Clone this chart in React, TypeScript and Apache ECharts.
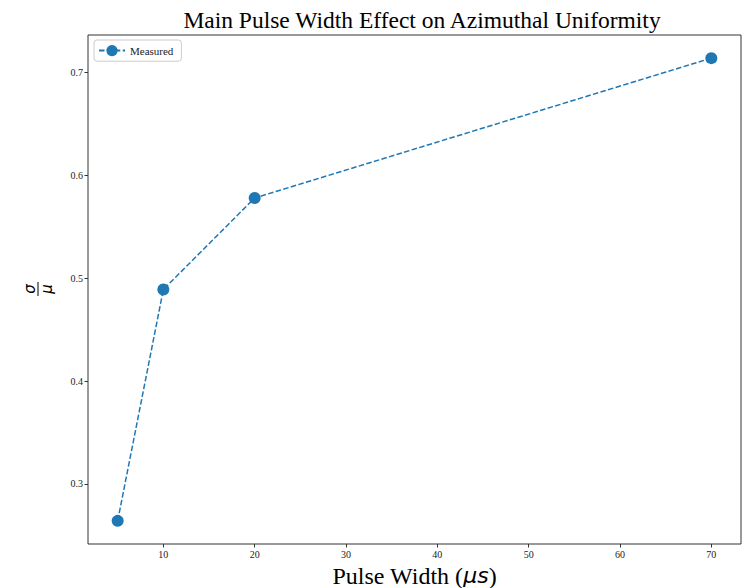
import React, { useEffect, useRef } from "react";
import * as echarts from "echarts";

const pulseWidths = [5, 10, 20, 70];
const sigmaOverMu = [0.264, 0.489, 0.578, 0.714];
const xTicks = [10, 20, 30, 40, 50, 60, 70];
const yTicks = [0.3, 0.4, 0.5, 0.6, 0.7];
const seriesName = "Measured";
const titleText = "Main Pulse Width Effect on Azimuthal Uniformity";

export default function App() {
  const ref = useRef<HTMLDivElement>(null);
  useEffect(() => {
    if (!ref.current) return;
    const chart = echarts.init(ref.current, null, { renderer: "svg" });
    const xmin = 5, xmax = 70;
    const xm = (xmax - xmin) * 0.05;
    const ymin = Math.min(...sigmaOverMu), ymax = Math.max(...sigmaOverMu);
    const ym = (ymax - ymin) * 0.05;
    const serif = "'Liberation Serif', 'Times New Roman', serif";
    chart.setOption({
      animation: false,
      title: {
        text: titleText,
        left: 417,
        top: 3,
        textAlign: "center",
        textStyle: { fontFamily: serif, fontSize: 23.5, fontWeight: "normal", color: "#000" },
      },
      grid: {
        left: 88,
        right: 8,
        top: 35,
        bottom: 44,
        show: true,
        borderColor: "#333",
        borderWidth: 1,
        outerBoundsMode: "none",
        containLabel: false,
      },
      legend: {
        left: 94,
        top: 40,
        orient: "vertical",
        padding: [5, 8, 5, 4],
        itemWidth: 26,
        itemHeight: 14,
        borderColor: "#ccc",
        borderWidth: 1,
        borderRadius: 3,
        backgroundColor: "rgba(255,255,255,0.8)",
        textStyle: { fontFamily: serif, fontSize: 11, color: "#222" },
        data: [seriesName],
      },
      xAxis: {
        type: "value",
        min: xmin - xm,
        max: xmax + xm,
        splitLine: { show: false },
        axisLine: { show: false },
        axisTick: { show: true, length: 3.5, lineStyle: { color: "#333" }, customValues: xTicks },
        axisLabel: {
          margin: 5,
          fontFamily: serif,
          fontSize: 10,
          color: "#222",
          customValues: xTicks,
        },
        name: "Pulse Width ({i|μs})",
        nameLocation: "middle",
        nameGap: 19,
        nameTextStyle: {
          fontFamily: serif,
          fontSize: 24,
          lineHeight: 24,
          color: "#000",
          verticalAlign: "top",
          rich: {
            i: { fontFamily: "'DejaVu Sans'", fontStyle: "italic", fontSize: 22, lineHeight: 24, color: "#000" },
          },
        },
      },
      yAxis: {
        type: "value",
        min: ymin - ym,
        max: ymax + ym,
        splitLine: { show: false },
        axisLine: { show: false },
        axisTick: { show: true, length: 3.5, lineStyle: { color: "#333" }, customValues: yTicks },
        axisLabel: {
          margin: 5,
          fontFamily: serif,
          fontSize: 10,
          color: "#222",
          customValues: yTicks,
          formatter: (v: number) => v.toFixed(1),
        },
      },
      graphic: [
        {
          type: "group",
          x: 38,
          y: 289,
          rotation: Math.PI / 2,
          children: [
            {
              type: "text",
              x: 0,
              y: -1,
              style: {
                text: "σ",
                fontFamily: "'DejaVu Sans'",
                fontStyle: "italic",
                fontSize: 15,
                fill: "#000",
                align: "center",
                verticalAlign: "bottom",
              },
            },
            {
              type: "line",
              shape: { x1: -7, y1: 0, x2: 7, y2: 0 },
              style: { stroke: "#000", lineWidth: 1 },
            },
            {
              type: "text",
              x: 0,
              y: 1,
              style: {
                text: "μ",
                fontFamily: "'DejaVu Sans'",
                fontStyle: "italic",
                fontSize: 15,
                fill: "#000",
                align: "center",
                verticalAlign: "top",
              },
            },
          ],
        },
      ],
      series: [
        {
          name: seriesName,
          type: "line",
          data: pulseWidths.map((x, i) => [x, sigmaOverMu[i]]),
          symbol: "circle",
          symbolSize: 12,
          itemStyle: { color: "#1f77b4" },
          lineStyle: { color: "#1f77b4", width: 1.5, type: [5.5, 2.4] },
          emphasis: { disabled: true },
        },
      ],
    });
    return () => chart.dispose();
  }, []);
  return (
    <div
      ref={ref}
      style={{ position: "absolute", left: 0, top: 0, width: 749, height: 588, background: "#fff" }}
    />
  );
}
